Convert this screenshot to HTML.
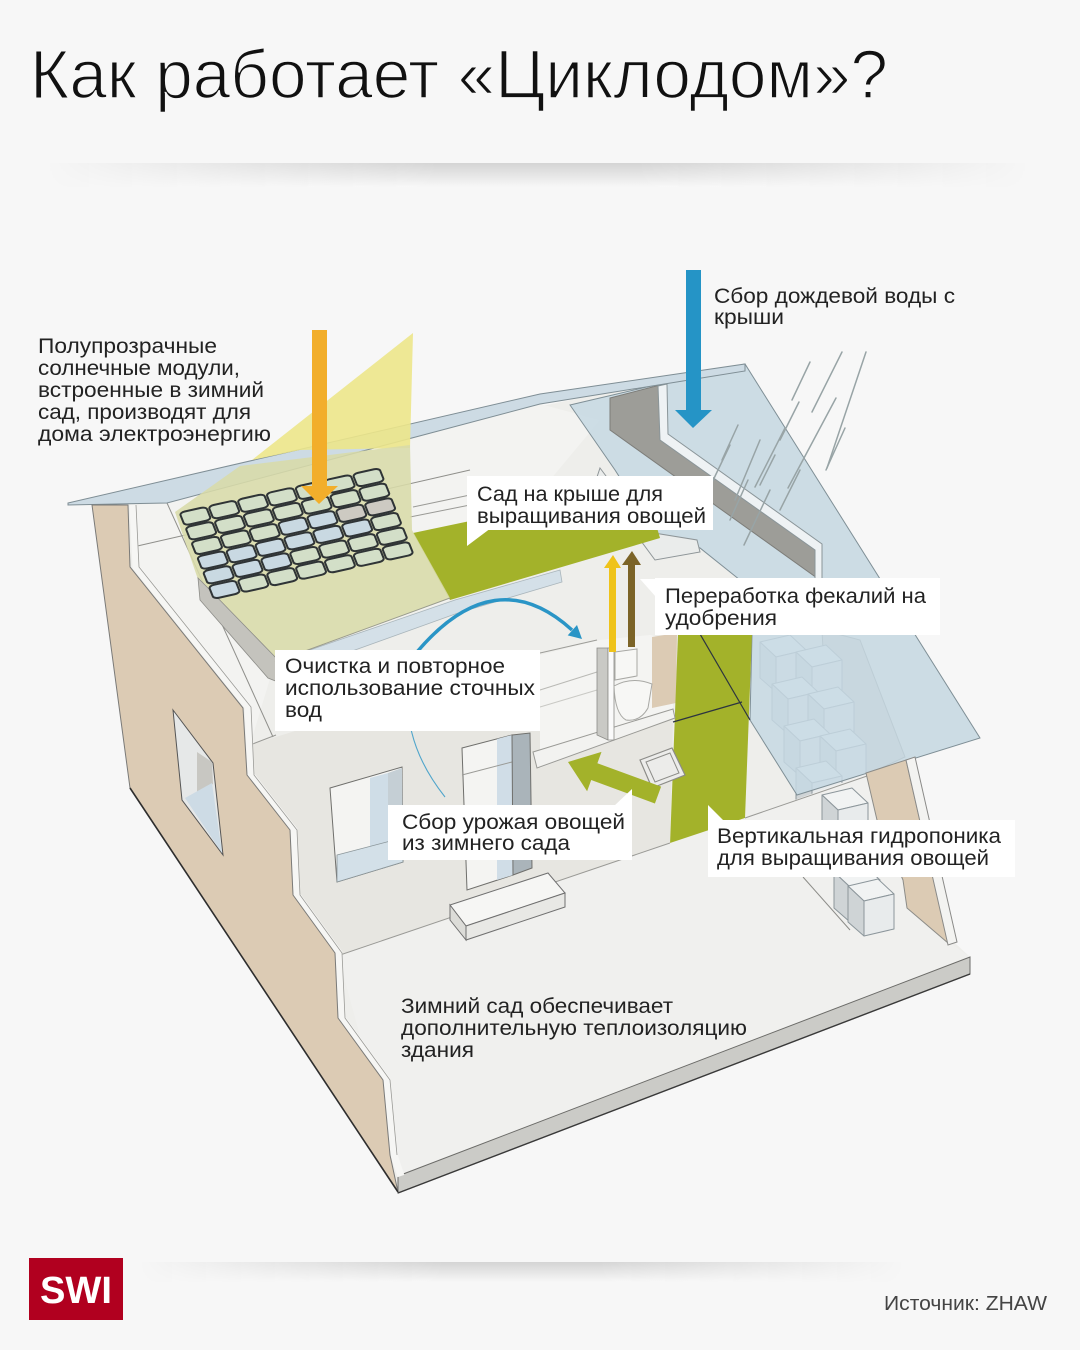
<!DOCTYPE html>
<html><head><meta charset="utf-8">
<style>
html,body{margin:0;padding:0;background:#f7f7f7;}
svg{display:block;}
text{font-family:"Liberation Sans","DejaVu Sans",sans-serif;}
</style></head><body>
<svg width="1080" height="1350" viewBox="0 0 1080 1350" xmlns="http://www.w3.org/2000/svg">
<defs>
 <linearGradient id="hf" x1="0" x2="1" y1="0" y2="0">
  <stop offset="0" stop-color="#000"/><stop offset="0.4" stop-color="#fff"/><stop offset="0.6" stop-color="#fff"/><stop offset="1" stop-color="#000"/>
 </linearGradient>
 <linearGradient id="vf" x1="0" x2="0" y1="0" y2="1">
  <stop offset="0" stop-color="#d4d4d4"/><stop offset="1" stop-color="#f7f7f7"/>
 </linearGradient>
 <mask id="m1"><rect x="45" y="160" width="985" height="30" fill="url(#hf)"/></mask>
 <mask id="m2"><rect x="138" y="1258" width="767" height="26" fill="url(#hf)"/></mask>
 <g id="cube" stroke="#8c969b" stroke-width="1" stroke-linejoin="round">
  <path d="M0,0 L30,-7 L46,8 L16,15 Z" fill="#f1f3f3"/>
  <path d="M0,0 L16,15 L16,50 L0,36 Z" fill="#cfd4d6"/>
  <path d="M16,15 L46,8 L46,43 L16,50 Z" fill="#e8ebec"/>
 </g>
</defs>

<rect x="0" y="0" width="1080" height="1350" fill="#f7f7f7"/>

<!-- shadows -->
<rect x="45" y="163" width="985" height="24" fill="url(#vf)" mask="url(#m1)"/>
<rect x="138" y="1262" width="767" height="20" fill="url(#vf)" mask="url(#m2)"/>

<!-- title -->
<text x="30" y="98" font-size="69" textLength="858" lengthAdjust="spacingAndGlyphs" fill="#111" stroke="#f7f7f7" stroke-width="1.6">Как работает «Циклодом»?</text>

<!-- footer -->
<rect x="29" y="1258" width="94" height="62" fill="#b1001f"/>
<text x="40" y="1303" font-size="38" font-weight="bold" fill="#fff" textLength="72" lengthAdjust="spacingAndGlyphs">SWI</text>
<text x="884" y="1310" font-size="20" fill="#444" textLength="163" lengthAdjust="spacingAndGlyphs">Источник: ZHAW</text>

<!-- ===== HOUSE ===== -->
<polygon points="68,504 745,364 980,738 915,757 955,943 970,957 970,974 398,1193 130,788 92,505" fill="#eeeeeb"/>

<!-- attic white -->
<polygon points="130,505 168,503 540,404 600,420 450,600 275,662 250,745 245,708 133,567" fill="#f3f3f1"/>

<!-- ground floor back wall -->
<polygon points="247,775 250,745 540,655 540,768 673,718 670,845 340,955 293,895 290,830" fill="#e7e6e1"/>
<!-- bathroom region -->
<polygon points="540,655 600,640 650,635 673,640 673,710 540,752" fill="#f4f4f2"/>
<polygon points="652,637 677,633 676,703 652,708" fill="#dccbb4"/>
<line x1="540" y1="690" x2="597" y2="672" stroke="#b9b9b5" stroke-width="1"/>
<line x1="540" y1="707" x2="597" y2="690" stroke="#c9c9c5" stroke-width="1"/>
<line x1="540" y1="653" x2="597" y2="640" stroke="#9d9d99" stroke-width="1"/>

<!-- attic lines -->
<line x1="167" y1="503" x2="273" y2="737" stroke="#8f8f8b" stroke-width="1"/>
<line x1="133" y1="547" x2="470" y2="470" stroke="#8f8f8b" stroke-width="1"/>
<line x1="410" y1="517" x2="470" y2="505" stroke="#9a9a96" stroke-width="1"/>
<line x1="413" y1="507" x2="470" y2="495" stroke="#9a9a96" stroke-width="1"/>
<line x1="250" y1="745" x2="276" y2="735" stroke="#9a9a96" stroke-width="1"/>

<!-- wall behind stairs (under roof) -->
<polygon points="822,630 860,640 905,757 870,773 830,790" fill="#d3cfc7" stroke="#8c8c88" stroke-width="1"/>
<!-- upper stairs -->
<use href="#cube" x="760" y="642"/>
<use href="#cube" x="796" y="652"/>
<use href="#cube" x="772" y="684"/>
<use href="#cube" x="808" y="694"/>
<use href="#cube" x="784" y="726"/>
<use href="#cube" x="820" y="736"/>
<use href="#cube" x="796" y="768"/>

<!-- right roof slope (translucent glass) -->
<polygon points="570,405 745,364 980,738 797,795 750,720 752,634 740,580 700,548 655,533 615,470" fill="#c6d8e3" fill-opacity="0.85" stroke="#7f8f96" stroke-width="1"/>
<!-- tray -->
<polygon points="600,468 648,532 697,540 700,552 655,560 596,480" fill="#eaeceb" stroke="#8e9598" stroke-width="1"/>

<!-- gutter dark panel -->
<polygon points="610,398 660,385 663,437 817,547 817,578 610,430" fill="#9d9d98" stroke="#7d7d79" stroke-width="1"/>
<polygon points="658,386 667,384 668,434 822,544 822,580 815,580 815,550 660,440" fill="#eef2f4" stroke="#8a9599" stroke-width="1"/>

<!-- roof strip (left slope) -->
<polygon points="68,503 540,394 745,364 745,371 540,404 167,503 68,505" fill="#cddbe4" stroke="#7f8e95" stroke-width="1"/>

<!-- green roof garden -->
<polygon points="413,533 470,521 655,521 660,538 450,600" fill="#a3b22a"/>
<!-- green vertical -->
<polygon points="678,634 752,634 745,818 670,845" fill="#a3b22a"/>
<line x1="673" y1="722" x2="742" y2="702" stroke="#2c3440" stroke-width="1.2"/>
<line x1="700" y1="634" x2="750" y2="720" stroke="#2c3440" stroke-width="1.2"/>

<!-- light blue attic floor band -->
<polygon points="275,662 455,600 560,570 562,582 458,613 280,677" fill="#d4e0e8" stroke="#a9b5bb" stroke-width="0.8"/>

<!-- yellow sun beam -->
<polygon points="252,460 413,333 410,448 300,450" fill="#ece68a" fill-opacity="0.9"/>
<!-- pale glass slab -->
<polygon points="175,512 240,466 410,445 412,530 450,598 275,662 205,600" fill="#d8dba8" fill-opacity="0.88"/>
<!-- glass slab side -->
<polygon points="198,578 210,590 280,662 278,682 268,678 200,600" fill="#c4c3bd" stroke="#8c8c88" stroke-width="0.8"/>
<line x1="275" y1="662" x2="450" y2="598" stroke="#9a9c8e" stroke-width="1"/>

<!-- solar grid -->
<g transform="matrix(28.86,-6.43,5.83,14.67,178,512)" stroke="#2f3436" stroke-width="2" fill="#d3dfc8">
  <rect vector-effect="non-scaling-stroke" x="0.04" y="0.06" width="0.92" height="0.88" rx="0.18"/>
  <rect vector-effect="non-scaling-stroke" x="1.04" y="0.06" width="0.92" height="0.88" rx="0.18"/>
  <rect vector-effect="non-scaling-stroke" x="2.04" y="0.06" width="0.92" height="0.88" rx="0.18"/>
  <rect vector-effect="non-scaling-stroke" x="3.04" y="0.06" width="0.92" height="0.88" rx="0.18"/>
  <rect vector-effect="non-scaling-stroke" x="4.04" y="0.06" width="0.92" height="0.88" rx="0.18"/>
  <rect vector-effect="non-scaling-stroke" x="5.04" y="0.06" width="0.92" height="0.88" rx="0.18"/>
  <rect vector-effect="non-scaling-stroke" x="6.04" y="0.06" width="0.92" height="0.88" rx="0.18"/>
  <rect vector-effect="non-scaling-stroke" x="0.04" y="1.06" width="0.92" height="0.88" rx="0.18"/>
  <rect vector-effect="non-scaling-stroke" x="1.04" y="1.06" width="0.92" height="0.88" rx="0.18"/>
  <rect vector-effect="non-scaling-stroke" x="2.04" y="1.06" width="0.92" height="0.88" rx="0.18"/>
  <rect vector-effect="non-scaling-stroke" x="3.04" y="1.06" width="0.92" height="0.88" rx="0.18"/>
  <rect vector-effect="non-scaling-stroke" x="4.04" y="1.06" width="0.92" height="0.88" rx="0.18"/>
  <rect vector-effect="non-scaling-stroke" x="5.04" y="1.06" width="0.92" height="0.88" rx="0.18"/>
  <rect vector-effect="non-scaling-stroke" x="6.04" y="1.06" width="0.92" height="0.88" rx="0.18"/>
  <rect vector-effect="non-scaling-stroke" x="0.04" y="2.06" width="0.92" height="0.88" rx="0.18"/>
  <rect vector-effect="non-scaling-stroke" x="1.04" y="2.06" width="0.92" height="0.88" rx="0.18"/>
  <rect vector-effect="non-scaling-stroke" x="2.04" y="2.06" width="0.92" height="0.88" rx="0.18"/>
  <rect vector-effect="non-scaling-stroke" x="3.04" y="2.06" width="0.92" height="0.88" rx="0.18" fill="#c9d9e2"/>
  <rect vector-effect="non-scaling-stroke" x="4.04" y="2.06" width="0.92" height="0.88" rx="0.18" fill="#c9d9e2"/>
  <rect vector-effect="non-scaling-stroke" x="5.04" y="2.06" width="0.92" height="0.88" rx="0.18" fill="#cdcac2"/>
  <rect vector-effect="non-scaling-stroke" x="6.04" y="2.06" width="0.92" height="0.88" rx="0.18" fill="#cdcac2"/>
  <rect vector-effect="non-scaling-stroke" x="0.04" y="3.06" width="0.92" height="0.88" rx="0.18" fill="#c9d9e2"/>
  <rect vector-effect="non-scaling-stroke" x="1.04" y="3.06" width="0.92" height="0.88" rx="0.18" fill="#c9d9e2"/>
  <rect vector-effect="non-scaling-stroke" x="2.04" y="3.06" width="0.92" height="0.88" rx="0.18" fill="#c9d9e2"/>
  <rect vector-effect="non-scaling-stroke" x="3.04" y="3.06" width="0.92" height="0.88" rx="0.18" fill="#c9d9e2"/>
  <rect vector-effect="non-scaling-stroke" x="4.04" y="3.06" width="0.92" height="0.88" rx="0.18" fill="#c9d9e2"/>
  <rect vector-effect="non-scaling-stroke" x="5.04" y="3.06" width="0.92" height="0.88" rx="0.18" fill="#c9d9e2"/>
  <rect vector-effect="non-scaling-stroke" x="6.04" y="3.06" width="0.92" height="0.88" rx="0.18"/>
  <rect vector-effect="non-scaling-stroke" x="0.04" y="4.06" width="0.92" height="0.88" rx="0.18" fill="#c9d9e2"/>
  <rect vector-effect="non-scaling-stroke" x="1.04" y="4.06" width="0.92" height="0.88" rx="0.18" fill="#c9d9e2"/>
  <rect vector-effect="non-scaling-stroke" x="2.04" y="4.06" width="0.92" height="0.88" rx="0.18" fill="#c9d9e2"/>
  <rect vector-effect="non-scaling-stroke" x="3.04" y="4.06" width="0.92" height="0.88" rx="0.18"/>
  <rect vector-effect="non-scaling-stroke" x="4.04" y="4.06" width="0.92" height="0.88" rx="0.18"/>
  <rect vector-effect="non-scaling-stroke" x="5.04" y="4.06" width="0.92" height="0.88" rx="0.18"/>
  <rect vector-effect="non-scaling-stroke" x="6.04" y="4.06" width="0.92" height="0.88" rx="0.18"/>
  <rect vector-effect="non-scaling-stroke" x="0.04" y="5.06" width="0.92" height="0.88" rx="0.18" fill="#c9d9e2"/>
  <rect vector-effect="non-scaling-stroke" x="1.04" y="5.06" width="0.92" height="0.88" rx="0.18"/>
  <rect vector-effect="non-scaling-stroke" x="2.04" y="5.06" width="0.92" height="0.88" rx="0.18"/>
  <rect vector-effect="non-scaling-stroke" x="3.04" y="5.06" width="0.92" height="0.88" rx="0.18"/>
  <rect vector-effect="non-scaling-stroke" x="4.04" y="5.06" width="0.92" height="0.88" rx="0.18"/>
  <rect vector-effect="non-scaling-stroke" x="5.04" y="5.06" width="0.92" height="0.88" rx="0.18"/>
  <rect vector-effect="non-scaling-stroke" x="6.04" y="5.06" width="0.92" height="0.88" rx="0.18"/>
</g>

<!-- floor -->
<polygon points="338,955 670,843 745,818 905,760 950,943 970,957 398,1176" fill="#f0f0ee"/>
<line x1="340" y1="955" x2="670" y2="843" stroke="#9a9a96" stroke-width="1"/>
<line x1="745" y1="818" x2="870" y2="775" stroke="#9a9a96" stroke-width="1"/>
<polygon points="398,1176 970,957 970,974 398,1193" fill="#cbcbc7" stroke="#6b6b68" stroke-width="1"/>
<line x1="398" y1="1193" x2="970" y2="974" stroke="#3a3a3a" stroke-width="1.4"/>

<!-- ground floor window -->
<polygon points="330,788 402,767 403,862 337,882" fill="#f4f4f2" stroke="#6f6f6c" stroke-width="1"/>
<polygon points="370,778 388,773 388,867 370,872" fill="#cfdde7"/>
<polygon points="388,773 402,768 403,862 388,867" fill="#c5cfd5"/>
<polygon points="337,855 402,838 403,862 337,882" fill="#d3e0e8" stroke="#8a9599" stroke-width="0.8"/>
<!-- tall door -->
<polygon points="462,748 512,735 513,875 467,890" fill="#f4f4f2" stroke="#6f6f6c" stroke-width="1"/>
<polygon points="497,739 512,735 513,875 497,880" fill="#d0dde7"/>
<line x1="462" y1="775" x2="512" y2="762" stroke="#9a9a96" stroke-width="1"/>
<polygon points="512,735 530,733 532,868 513,875" fill="#aab4ba" stroke="#6f6f6c" stroke-width="1"/>
<!-- bench -->
<polygon points="450,905 548,873 565,893 466,926" fill="#f6f6f4" stroke="#707070" stroke-width="1"/>
<polygon points="450,905 466,926 466,940 450,920" fill="#dcdcd8" stroke="#707070" stroke-width="1"/>
<polygon points="466,926 565,893 565,907 466,940" fill="#e8e8e5" stroke="#707070" stroke-width="1"/>

<!-- bathroom platform, pillar, toilet, sink -->
<polygon points="533,752 673,709 675,718 537,768" fill="#f2f2f0" stroke="#9a9a96" stroke-width="1"/>
<polygon points="597,648 608,648 608,740 597,735" fill="#c9c9c5" stroke="#8c8c88" stroke-width="0.8"/>
<polygon points="608,648 614,648 614,740 608,740" fill="#fafafa" stroke="#8c8c88" stroke-width="0.8"/>
<path d="M615,652 L637,649 L637,676 L615,680 Z" fill="#f7f7f5" stroke="#a8a8a4" stroke-width="1"/>
<path d="M614,686 Q632,676 652,684 L648,708 Q640,722 626,720 Q615,714 614,686 Z" fill="#f7f7f5" stroke="#a8a8a4" stroke-width="1"/>
<polygon points="640,760 672,748 685,775 652,788" fill="#ececea" stroke="#8c8c88" stroke-width="1.2"/>
<polygon points="646,762 670,753 679,773 655,782" fill="none" stroke="#8c8c88" stroke-width="1"/>

<!-- lower stairs -->
<use href="#cube" x="822" y="795"/>
<use href="#cube" x="834" y="872"/>
<use href="#cube" x="848" y="886"/>
<line x1="803" y1="877" x2="850" y2="930" stroke="#8c8c88" stroke-width="1"/>

<!-- right wall beige -->
<polygon points="866,773 906,760 948,943 907,908 903,880 877,820" fill="#dccbb4" stroke="#8c8c88" stroke-width="1"/>
<polygon points="906,760 915,757 957,942 948,945" fill="#f3f3f1" stroke="#8a8a88" stroke-width="1"/>

<!-- left beige wall -->
<polyline points="133,505 136,567 248,707 251,775 294,830 297,895 339,953 342,1018 387,1080 394,1155 401,1176" fill="none" stroke="#f6f6f4" stroke-width="7"/>
<polyline points="136,505 139,567 251,707 254,775 297,830 300,895 342,953 345,1018 390,1080 397,1155" fill="none" stroke="#9a9a96" stroke-width="0.8"/>
<polygon points="92,505 128,505 130,567 243,708 247,775 290,830 293,895 335,953 338,1018 383,1080 390,1155 398,1192 130,788" fill="#dccbb4" stroke="#7a7a78" stroke-width="1"/>
<line x1="130" y1="788" x2="398" y2="1192" stroke="#2e2e2e" stroke-width="1.6"/>
<!-- left wall window -->
<polygon points="173,710 213,763 223,855 182,800" fill="#e6e8e8" stroke="#555" stroke-width="1"/>
<polygon points="197,752 212,762 213,784 197,793" fill="#c8c7c2"/>
<polygon points="185,798 212,783 222,853" fill="#cddbe5"/>

<!-- ===== arrows, rain, arc ===== -->
<g stroke="#98a4a6" stroke-width="1.5" stroke-linecap="round">
 <line x1="866" y1="352" x2="827" y2="468"/>
 <line x1="842" y1="352" x2="812" y2="412"/>
 <line x1="810" y1="362" x2="792" y2="400"/>
 <line x1="836" y1="398" x2="788" y2="488"/>
 <line x1="845" y1="428" x2="826" y2="470"/>
 <line x1="799" y1="402" x2="780" y2="440"/>
 <line x1="785" y1="428" x2="755" y2="487"/>
 <line x1="760" y1="440" x2="735" y2="500"/>
 <line x1="775" y1="455" x2="760" y2="485"/>
 <line x1="738" y1="425" x2="722" y2="460"/>
 <line x1="730" y1="445" x2="706" y2="495"/>
 <line x1="770" y1="490" x2="744" y2="545"/>
 <line x1="800" y1="470" x2="780" y2="510"/>
 <line x1="748" y1="480" x2="730" y2="520"/>
</g>

<!-- orange sun arrow -->
<rect x="312" y="330" width="15" height="157" fill="#f2ae2b"/>
<polygon points="301,486 338,486 319,504" fill="#f2ae2b"/>
<!-- blue rain arrow -->
<rect x="686" y="270" width="15" height="141" fill="#2594c6"/>
<polygon points="675,410 712,410 693,428" fill="#2594c6"/>
<!-- yellow & brown up arrows -->
<rect x="609" y="566" width="7" height="86" fill="#efc31a"/>
<polygon points="604,568 621,568 613,555" fill="#efc31a"/>
<rect x="628" y="563" width="7" height="84" fill="#7c6428"/>
<polygon points="622,565 641,565 632,551" fill="#7c6428"/>
<!-- blue arc -->
<path d="M417,652 Q495,560 572,630" fill="none" stroke="#2a95c6" stroke-width="3.5"/>
<polygon points="582,639 577,625 567.7,635.4" fill="#2a95c6"/>
<path d="M417,652 C403,690 400,740 445,797" fill="none" stroke="#2a95c6" stroke-width="1.1" stroke-opacity="0.8"/>
<!-- green harvest arrow -->
<polygon points="661.1,786.6 597.4,763.2 601.5,751.9 568,762 587.1,791.3 591.2,780 654.9,803.5" fill="#a3b22a"/>

<!-- ===== labels ===== -->
<g font-size="21" fill="#222">
 <text x="38" y="353" textLength="179" lengthAdjust="spacingAndGlyphs">Полупрозрачные</text>
 <text x="38" y="375" textLength="202" lengthAdjust="spacingAndGlyphs">солнечные модули,</text>
 <text x="38" y="397" textLength="226" lengthAdjust="spacingAndGlyphs">встроенные в зимний</text>
 <text x="38" y="419" textLength="213" lengthAdjust="spacingAndGlyphs">сад, производят для</text>
 <text x="38" y="441" textLength="233" lengthAdjust="spacingAndGlyphs">дома электроэнергию</text>

 <text x="714" y="303" textLength="241" lengthAdjust="spacingAndGlyphs">Сбор дождевой воды с</text>
 <text x="714" y="324" textLength="70" lengthAdjust="spacingAndGlyphs">крыши</text>
</g>

<rect x="467" y="476" width="246" height="54" fill="#fff"/>
<polygon points="467,528 467,546 491,528" fill="#fff"/>
<rect x="655" y="578" width="285" height="57" fill="#fff"/>
<polygon points="656,579 640,579 656,597" fill="#fff"/>
<rect x="275" y="650" width="265" height="81" fill="#fff"/>
<rect x="388" y="805" width="244" height="55" fill="#fff"/>
<polygon points="614,806 632,789 632,806" fill="#fff"/>
<rect x="708" y="820" width="307" height="57" fill="#fff"/>
<polygon points="708,822 708,805 725,822" fill="#fff"/>

<g font-size="21" fill="#222">
 <text x="477" y="501" textLength="186" lengthAdjust="spacingAndGlyphs">Сад на крыше для</text>
 <text x="477" y="523" textLength="229" lengthAdjust="spacingAndGlyphs">выращивания овощей</text>

 <text x="665" y="603" textLength="261" lengthAdjust="spacingAndGlyphs">Переработка фекалий на</text>
 <text x="665" y="625" textLength="112" lengthAdjust="spacingAndGlyphs">удобрения</text>

 <text x="285" y="673" textLength="220" lengthAdjust="spacingAndGlyphs">Очистка и повторное</text>
 <text x="285" y="695" textLength="250" lengthAdjust="spacingAndGlyphs">использование сточных</text>
 <text x="285" y="717" textLength="37" lengthAdjust="spacingAndGlyphs">вод</text>

 <text x="402" y="829" textLength="223" lengthAdjust="spacingAndGlyphs">Сбор урожая овощей</text>
 <text x="402" y="850" textLength="168" lengthAdjust="spacingAndGlyphs">из зимнего сада</text>

 <text x="717" y="843" textLength="284" lengthAdjust="spacingAndGlyphs">Вертикальная гидропоника</text>
 <text x="717" y="865" textLength="272" lengthAdjust="spacingAndGlyphs">для выращивания овощей</text>

 <text x="401" y="1013" textLength="272" lengthAdjust="spacingAndGlyphs">Зимний сад обеспечивает</text>
 <text x="401" y="1035" textLength="346" lengthAdjust="spacingAndGlyphs">дополнительную теплоизоляцию</text>
 <text x="401" y="1057" textLength="73" lengthAdjust="spacingAndGlyphs">здания</text>
</g>
</svg>
</body></html>
